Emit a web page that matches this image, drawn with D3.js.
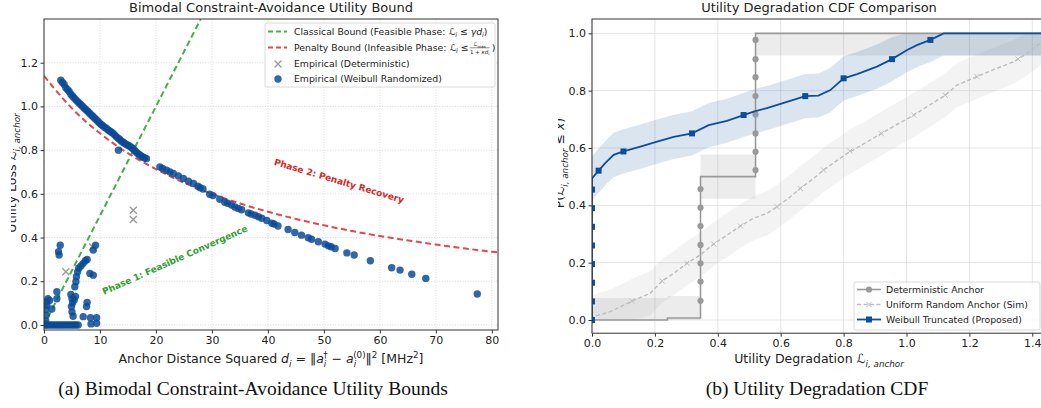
<!DOCTYPE html>
<html lang="en">
<head>
<meta charset="UTF-8">
<script src="https://d3js.org/d3.v7.min.js"></script>
<style>
    body { margin: 0; background: #fff; }
    svg text { font-family: "DejaVu Sans", sans-serif; fill: #222; }
    .cap { font-family: "Liberation Serif", "Times New Roman", serif; fill: #111; }
</style>
</head>
<body>
<svg id="fig" width="1041" height="408"></svg>
<script>
// ---------- panel (a) data ----------
const xTicksA = [0, 10, 20, 30, 40, 50, 60, 70, 80];
const yTicksA = [0, 0.2, 0.4, 0.6, 0.8, 1.0, 1.2];

// classical bound L = gamma*d (straight line)
const classicalBound = [[0, 0], [28, 1.4]];
const penaltyBound = [[0, 1.14], [5, 0.991], [10, 0.877], [15, 0.786], [20, 0.713], [25, 0.651],
    [30, 0.600], [35, 0.556], [40, 0.518], [45, 0.485], [50, 0.456], [55, 0.430],
    [60, 0.407], [65, 0.387], [70, 0.368], [75, 0.351], [80, 0.335], [81.2, 0.332]];

const detPoints = [[15.95, 0.525], [15.95, 0.483], [3.9, 0.243], [8.7, 0.357]];

// Weibull randomized empirical points
const weibullLow = [[0.2, 0], [0.5, 0], [0.9, 0], [1.3, 0], [1.7, 0], [2.1, 0], [2.5, 0], [2.9, 0],
    [3.3, 0], [3.7, 0], [4.1, 0], [4.5, 0], [4.9, 0], [5.3, 0], [5.7, 0], [6.1, 0], [8.4, 0.005], [9.4, 0.008],
    [0.3, 0.02], [0.4, 0.045], [0.3, 0.07], [0.5, 0.09], [0.4, 0.105], [1.0, 0.112], [0.7, 0.12],
    [1.4, 0.073], [2.3, 0.12], [2.3, 0.152], [2.6, 0.335], [2.9, 0.365], [2.7, 0.32],
    [4.8, 0.14], [5.0, 0.12], [5.1, 0.1], [4.9, 0.084], [5.0, 0.06], [5.2, 0.04],
    [5.5, 0.175], [5.7, 0.198], [5.8, 0.221], [6.0, 0.243], [6.2, 0.26], [6.6, 0.27], [7.0, 0.282],
    [7.4, 0.294], [7.7, 0.3], [5.6, 0.13], [5.4, 0.114], [7.7, 0.103], [7.6, 0.084], [8.3, 0.033],
    [9.4, 0.033], [7.0, 0.038], [8.2, 0.236], [8.8, 0.228], [9.2, 0.365], [8.8, 0.343]];
const weibullUpper = [[3.0, 1.12], [3.3, 1.11], [3.6, 1.10], [3.9, 1.085], [4.2, 1.077], [4.5, 1.068],
    [4.8, 1.056], [5.1, 1.047], [5.4, 1.038], [5.7, 1.03], [6.0, 1.022], [6.3, 1.015], [6.6, 1.008],
    [6.9, 1.0], [7.2, 0.992], [7.5, 0.985], [7.8, 0.978], [8.1, 0.97], [8.4, 0.962], [8.7, 0.955],
    [9.0, 0.947], [9.3, 0.94], [9.6, 0.932], [9.9, 0.924], [10.2, 0.917], [10.5, 0.912], [10.8, 0.905],
    [11.1, 0.9], [11.4, 0.894], [11.7, 0.888], [12.0, 0.883], [12.3, 0.877], [12.6, 0.87], [12.9, 0.862],
    [13.2, 0.855], [13.5, 0.85], [13.8, 0.842], [14.1, 0.836], [14.4, 0.832], [14.7, 0.826], [15.0, 0.822],
    [15.3, 0.818], [15.6, 0.812], [15.9, 0.806], [16.2, 0.798], [16.5, 0.79], [16.8, 0.784], [17.1, 0.778],
    [17.4, 0.772], [17.7, 0.768], [18.0, 0.764], [18.3, 0.761], [13.3, 0.80]];
const weibullTail = [[20.7, 0.723], [21.2, 0.716], [21.9, 0.708], [22.5, 0.70], [23.1, 0.693], [24.0, 0.682],
    [24.9, 0.670], [25.8, 0.658], [26.7, 0.647], [27.5, 0.635], [27.9, 0.628], [28.4, 0.622], [29.6, 0.598],
    [30.2, 0.592], [31.4, 0.575], [32.3, 0.562], [32.8, 0.557], [33.5, 0.549], [34.1, 0.54], [34.7, 0.533],
    [35.3, 0.527], [36.5, 0.513], [37.0, 0.508], [37.7, 0.502], [38.3, 0.495], [38.9, 0.488], [39.8, 0.478],
    [40.7, 0.466], [41.1, 0.462], [41.8, 0.453], [43.6, 0.437], [44.8, 0.423], [46.0, 0.411], [47.2, 0.399],
    [47.8, 0.392], [49.0, 0.381], [50.2, 0.37], [50.8, 0.362], [51.3, 0.358], [52.0, 0.35], [54.1, 0.33],
    [55.4, 0.32], [58.3, 0.294], [62.1, 0.262], [63.6, 0.251], [65.7, 0.232], [68.2, 0.213], [77.4, 0.142]];

// ---------- panel (b) data ----------
const xTicksB = [0, 0.2, 0.4, 0.6, 0.8, 1.0, 1.2, 1.4];
const yTicksB = [0, 0.2, 0.4, 0.6, 0.8, 1.0];
const bandEps = 0.077;

const detCdf = [[0, 0], [0.24, 0], [0.24, 0.007], [0.345, 0.007], [0.345, 0.5], [0.52, 0.5], [0.52, 1], [1.5, 1]];
const detMarks = [[0.345, 0.067], [0.345, 0.134], [0.345, 0.198], [0.345, 0.262], [0.345, 0.328],
    [0.345, 0.392], [0.345, 0.457], [0.52, 0.523], [0.52, 0.587], [0.52, 0.651], [0.52, 0.717],
    [0.52, 0.781], [0.52, 0.847], [0.52, 0.910], [0.52, 0.977]];

const uniCdf = [[0, 0], [0.005, 0.012], [0.058, 0.029], [0.127, 0.066], [0.185, 0.093], [0.223, 0.136],
    [0.26, 0.163], [0.302, 0.198], [0.344, 0.227], [0.387, 0.265], [0.429, 0.296], [0.472, 0.328],
    [0.514, 0.355], [0.556, 0.372], [0.588, 0.395], [0.631, 0.43], [0.662, 0.459], [0.705, 0.494],
    [0.736, 0.523], [0.811, 0.581], [0.885, 0.628], [0.949, 0.669], [1.023, 0.715], [1.065, 0.744],
    [1.123, 0.784], [1.16, 0.819], [1.224, 0.849], [1.288, 0.878], [1.341, 0.901], [1.383, 0.93],
    [1.425, 0.965], [1.46, 0.99], [1.48, 1.0], [1.5, 1.0]];
const uniMarks = [[0.127, 0.066], [0.223, 0.136], [0.302, 0.198], [0.387, 0.265], [0.472, 0.328],
    [0.588, 0.395], [0.662, 0.459], [0.736, 0.523], [0.82, 0.589], [0.92, 0.65], [1.023, 0.715],
    [1.123, 0.784], [1.224, 0.849], [1.355, 0.91], [1.435, 0.975]];

const weiCdf = [[0, 0], [0, 0.494], [0.021, 0.521], [0.042, 0.547], [0.069, 0.576], [0.1, 0.588],
    [0.154, 0.605], [0.207, 0.622], [0.26, 0.639], [0.318, 0.651], [0.371, 0.68], [0.429, 0.695],
    [0.482, 0.715], [0.514, 0.727], [0.556, 0.739], [0.62, 0.761], [0.678, 0.781], [0.72, 0.783],
    [0.758, 0.802], [0.8, 0.843], [0.843, 0.858], [0.906, 0.884], [0.954, 0.91], [1.002, 0.942],
    [1.033, 0.959], [1.076, 0.977], [1.118, 1.0], [1.5, 1.0]];
const weiMarks = [[0, 0], [0, 0.065], [0, 0.13], [0, 0.195], [0, 0.26], [0, 0.325], [0, 0.39], [0, 0.455],
    [0.021, 0.521], [0.1, 0.588], [0.318, 0.651], [0.482, 0.715], [0.678, 0.781], [0.8, 0.843],
    [0.954, 0.91], [1.076, 0.977]];

const svg = d3.select("#fig");

// text with sub/superscripts
function rich(text, parts, fs) {
    let cur = 0;
    parts.forEach(p => {
        const off = p.sub ? fs * 0.28 : p.sup ? -fs * 0.42 : 0;
        const ts = text.append("tspan").attr("dy", off - cur).text(p.t);
        cur = off;
        if (p.sub || p.sup) ts.attr("font-size", fs * 0.7);
        if (p.it) ts.attr("font-style", "italic");
        if (p.dx) ts.attr("dx", p.dx);
    });
    return text;
}

function axes(g, x, y, xt, yt, fmtX, fmtY, gridDash, gridColor) {
    const [x0, x1] = x.range(), [y0, y1] = y.range();
    const grid = g.append("g");
    xt.forEach(v => grid.append("line").attr("x1", x(v)).attr("x2", x(v)).attr("y1", y0).attr("y2", y1)
        .attr("stroke", gridColor).attr("stroke-width", 0.8).attr("stroke-dasharray", gridDash));
    yt.forEach(v => grid.append("line").attr("x1", x0).attr("x2", x1).attr("y1", y(v)).attr("y2", y(v))
        .attr("stroke", gridColor).attr("stroke-width", 0.8).attr("stroke-dasharray", gridDash));
    const ax = g.append("g").attr("transform", `translate(0,${y0})`)
        .call(d3.axisBottom(x).tickValues(xt).tickFormat(fmtX).tickSize(3.5).tickPadding(2.5));
    const ay = g.append("g").attr("transform", `translate(${x0},0)`)
        .call(d3.axisLeft(y).tickValues(yt).tickFormat(fmtY).tickSize(3.5).tickPadding(2.5));
    [ax, ay].forEach(a => {
        a.select(".domain").remove();
        a.selectAll("text").attr("font-size", 11).style("font-family", "DejaVu Sans").attr("fill", "#222");
        a.selectAll("line").attr("stroke", "#333");
    });
}

function spines(g, x, y) {
    const [x0, x1] = x.range(), [y0, y1] = y.range();
    g.append("rect").attr("x", x0).attr("y", y1).attr("width", x1 - x0).attr("height", y0 - y1)
        .attr("fill", "none").attr("stroke", "#333").attr("stroke-width", 1);
}

// ================= Panel (a) =================
const xA = d3.scaleLinear().domain([0, 81.1]).range([44, 498]);
const yA = d3.scaleLinear().domain([-0.023, 1.4]).range([330, 19]);
const gA = svg.append("g");
svg.append("clipPath").attr("id", "clipA").append("rect")
    .attr("x", 44).attr("y", 19).attr("width", 454).attr("height", 311);

axes(gA, xA, yA, xTicksA, yTicksA, d3.format("d"), d3.format(".1f"), "1,1.6", "#cfcfcf");

const plotA = gA.append("g").attr("clip-path", "url(#clipA)");
const lineA = d3.line().x(d => xA(d[0])).y(d => yA(d[1]));
plotA.append("path").attr("d", lineA(classicalBound)).attr("fill", "none")
    .attr("stroke", "#45b045").attr("stroke-width", 2).attr("stroke-dasharray", "6,3.5");
plotA.append("path").attr("d", lineA.curve(d3.curveMonotoneX)(penaltyBound)).attr("fill", "none")
    .attr("stroke", "#e04a4a").attr("stroke-width", 2).attr("stroke-dasharray", "6,3.5");

function xMark(g, cx, cy, s, color, w) {
    g.append("path").attr("d", `M${cx - s},${cy - s}L${cx + s},${cy + s}M${cx - s},${cy + s}L${cx + s},${cy - s}`)
        .attr("stroke", color).attr("stroke-width", w).attr("fill", "none");
}
detPoints.forEach(d => xMark(plotA, xA(d[0]), yA(d[1]), 3.5, "#999", 1.4));

plotA.selectAll(".dot").data(weibullLow.concat(weibullUpper, weibullTail)).enter()
    .append("circle").attr("class", "dot")
    .attr("cx", d => xA(d[0])).attr("cy", d => yA(d[1])).attr("r", 3.7)
    .attr("fill", "#0a4a96").attr("fill-opacity", 0.84);

spines(gA, xA, yA);

// annotations
gA.append("text").attr("transform", "translate(175,260) rotate(-24)")
    .attr("text-anchor", "middle").attr("dominant-baseline", "central")
    .attr("font-size", 9).attr("font-weight", "bold").style("fill", "#2ca02c")
    .text("Phase 1: Feasible Convergence");
gA.append("text").attr("transform", "translate(339,181) rotate(16.5)")
    .attr("text-anchor", "middle").attr("dominant-baseline", "central")
    .attr("font-size", 9).attr("font-weight", "bold").style("fill", "#d62728")
    .text("Phase 2: Penalty Recovery");

// legend (a)
const lgA = gA.append("g");
lgA.append("rect").attr("x", 265).attr("y", 23).attr("width", 230).attr("height", 64).attr("rx", 2)
    .attr("fill", "#fff").attr("fill-opacity", 0.85).attr("stroke", "#d0d0d0").attr("stroke-width", 0.8);
const rowsA = [31.5, 47.5, 64, 79];
lgA.append("line").attr("x1", 268).attr("x2", 287).attr("y1", rowsA[0]).attr("y2", rowsA[0])
    .attr("stroke", "#45b045").attr("stroke-width", 2).attr("stroke-dasharray", "5,3");
lgA.append("line").attr("x1", 268).attr("x2", 287).attr("y1", rowsA[1]).attr("y2", rowsA[1])
    .attr("stroke", "#e04a4a").attr("stroke-width", 2).attr("stroke-dasharray", "5,3");
xMark(lgA, 278, rowsA[2], 3.5, "#999", 1.3);
lgA.append("circle").attr("cx", 278).attr("cy", rowsA[3]).attr("r", 3.7).attr("fill", "#0a4a96").attr("fill-opacity", 0.84);
const lfs = 9.3;
rich(lgA.append("text").attr("x", 294).attr("y", rowsA[0] + 3.3).attr("font-size", lfs),
    [{ t: "Classical Bound (Feasible Phase: " }, { t: "ℒ", it: 1 }, { t: "i", sub: 1, it: 1 },
     { t: " ≤ " }, { t: "γd", it: 1 }, { t: "i", sub: 1, it: 1 }, { t: ")" }], lfs);
const t2 = rich(lgA.append("text").attr("x", 294).attr("y", rowsA[1] + 3.3).attr("font-size", lfs),
    [{ t: "Penalty Bound (Infeasible Phase: " }, { t: "ℒ", it: 1 }, { t: "i", sub: 1, it: 1 }, { t: " ≤ " }], lfs);
const fx = 294 + t2.node().getComputedTextLength() + 1;
rich(lgA.append("text").attr("x", fx + 10).attr("y", rowsA[1] - 1.5).attr("font-size", 5.5).attr("text-anchor", "middle"),
    [{ t: "ℒ", it: 1 }, { t: "max", sub: 1 }], 5.5);
lgA.append("line").attr("x1", fx).attr("x2", fx + 20).attr("y1", rowsA[1] + 0.3).attr("y2", rowsA[1] + 0.3)
    .attr("stroke", "#222").attr("stroke-width", 0.5);
rich(lgA.append("text").attr("x", fx + 10).attr("y", rowsA[1] + 6).attr("font-size", 5.5).attr("text-anchor", "middle"),
    [{ t: "1 + " }, { t: "κd", it: 1 }, { t: "i", sub: 1, it: 1 }], 5.5);
lgA.append("text").attr("x", fx + 22).attr("y", rowsA[1] + 3.3).attr("font-size", lfs).text(")");
lgA.append("text").attr("x", 294).attr("y", rowsA[2] + 3.3).attr("font-size", lfs).text("Empirical (Deterministic)");
lgA.append("text").attr("x", 294).attr("y", rowsA[3] + 3.3).attr("font-size", lfs).text("Empirical (Weibull Randomized)");

// titles / labels (a)
gA.append("text").attr("x", 271).attr("y", 12).attr("text-anchor", "middle").attr("font-size", 13)
    .text("Bimodal Constraint-Avoidance Utility Bound");
rich(gA.append("text").attr("x", 271).attr("y", 363).attr("text-anchor", "middle").attr("font-size", 12.5),
    [{ t: "Anchor Distance Squared " }, { t: "d", it: 1 }, { t: "i", sub: 1, it: 1 }, { t: " = ‖" },
     { t: "a", it: 1 }, { t: "i", sub: 1, it: 1 }, { t: "†", sup: 1, dx: -3 }, { t: " − " },
     { t: "a", it: 1 }, { t: "i", sub: 1, it: 1 }, { t: "(0)", sup: 1, dx: -3 }, { t: "‖" },
     { t: "2", sup: 1 }, { t: " [MHz" }, { t: "2", sup: 1 }, { t: "]" }], 12.5);

// y labels are cut at the left edge of each sub-figure, as in the original
svg.append("clipPath").attr("id", "clipLY").append("rect").attr("x", 11).attr("y", 0).attr("width", 30).attr("height", 408);
rich(svg.append("g").attr("clip-path", "url(#clipLY)").append("text")
    .attr("transform", "translate(16,173) rotate(-90)").attr("text-anchor", "middle").attr("font-size", 12.5),
    [{ t: "Utility Loss " }, { t: "ℒ", it: 1 }, { t: "i, anchor", sub: 1, it: 1 }], 12.5);
svg.append("text").attr("class", "cap").attr("x", 253).attr("y", 395).attr("text-anchor", "middle")
    .attr("font-size", 19.5).text("(a) Bimodal Constraint-Avoidance Utility Bounds");

// ================= Panel (b) =================
const xB = d3.scaleLinear().domain([0, 1.5]).range([592, 592 + 1.5 * 314.5]);
const yB = d3.scaleLinear().domain([-0.046, 1.05]).range([333.2, 19]);
const gB = svg.append("g");
svg.append("clipPath").attr("id", "clipB").append("rect")
    .attr("x", 592).attr("y", 19).attr("width", 472).attr("height", 314.2);

axes(gB, xB, yB, xTicksB, yTicksB, d3.format(".1f"), d3.format(".1f"), null, "#dedede");

const plotB = gB.append("g").attr("clip-path", "url(#clipB)");
const clamp = v => Math.max(0, Math.min(1, v));
const band = d3.area().x(d => xB(d[0])).y0(d => yB(clamp(d[1] - bandEps))).y1(d => yB(clamp(d[1] + bandEps)));
const lineB = d3.line().x(d => xB(d[0])).y(d => yB(d[1]));

plotB.append("path").attr("d", band(detCdf)).attr("fill", "#808080").attr("fill-opacity", 0.15);
plotB.append("path").attr("d", band(uniCdf)).attr("fill", "#b0b0b0").attr("fill-opacity", 0.15);
plotB.append("path").attr("d", band(weiCdf)).attr("fill", "#0b4f9c").attr("fill-opacity", 0.15);

plotB.append("path").attr("d", lineB(detCdf)).attr("fill", "none").attr("stroke", "#999").attr("stroke-width", 1.6);
plotB.selectAll(".dm").data(detMarks).enter().append("circle").attr("class", "dm")
    .attr("cx", d => xB(d[0])).attr("cy", d => yB(d[1])).attr("r", 3.1).attr("fill", "#999");

plotB.append("path").attr("d", lineB(uniCdf)).attr("fill", "none").attr("stroke", "#bdbdbd")
    .attr("stroke-width", 1.4).attr("stroke-dasharray", "4,2.5");
uniMarks.forEach(d => xMark(plotB, xB(d[0]), yB(d[1]), 2.6, "#bdbdbd", 1));

plotB.append("path").attr("d", lineB(weiCdf)).attr("fill", "none").attr("stroke", "#0b4f9c").attr("stroke-width", 1.8);
plotB.selectAll(".wm").data(weiMarks).enter().append("rect").attr("class", "wm")
    .attr("x", d => xB(d[0]) - 3).attr("y", d => yB(d[1]) - 3).attr("width", 6).attr("height", 6)
    .attr("fill", "#0b4f9c");

spines(gB, xB, yB);

// legend (b)
const lgB = gB.append("g");
lgB.append("rect").attr("x", 854).attr("y", 282).attr("width", 186).attr("height", 48).attr("rx", 2)
    .attr("fill", "#fff").attr("fill-opacity", 0.85).attr("stroke", "#d0d0d0").attr("stroke-width", 0.8);
const rowsB = [289.5, 304.5, 319.5];
lgB.append("line").attr("x1", 857).attr("x2", 881).attr("y1", rowsB[0]).attr("y2", rowsB[0]).attr("stroke", "#999").attr("stroke-width", 1.6);
lgB.append("circle").attr("cx", 869).attr("cy", rowsB[0]).attr("r", 3.1).attr("fill", "#999");
lgB.append("line").attr("x1", 857).attr("x2", 881).attr("y1", rowsB[1]).attr("y2", rowsB[1]).attr("stroke", "#bdbdbd")
    .attr("stroke-width", 1.4).attr("stroke-dasharray", "4,2.5");
xMark(lgB, 869, rowsB[1], 2.6, "#bdbdbd", 1);
lgB.append("line").attr("x1", 857).attr("x2", 881).attr("y1", rowsB[2]).attr("y2", rowsB[2]).attr("stroke", "#0b4f9c").attr("stroke-width", 1.8);
lgB.append("rect").attr("x", 866).attr("y", rowsB[2] - 3).attr("width", 6).attr("height", 6).attr("fill", "#0b4f9c");
["Deterministic Anchor", "Uniform Random Anchor (Sim)", "Weibull Truncated (Proposed)"].forEach((t, i) =>
    lgB.append("text").attr("x", 886).attr("y", rowsB[i] + 3.3).attr("font-size", 9.3).text(t));

// titles / labels (b)
gB.append("text").attr("x", 819).attr("y", 12).attr("text-anchor", "middle").attr("font-size", 13)
    .text("Utility Degradation CDF Comparison");
rich(gB.append("text").attr("x", 819).attr("y", 363).attr("text-anchor", "middle").attr("font-size", 12.5),
    [{ t: "Utility Degradation " }, { t: "ℒ", it: 1 }, { t: "i, anchor", sub: 1, it: 1 }], 12.5);
svg.append("clipPath").attr("id", "clipRY").append("rect").attr("x", 558).attr("y", 0).attr("width", 30).attr("height", 408);
rich(svg.append("g").attr("clip-path", "url(#clipRY)").append("text")
    .attr("transform", "translate(564,163) rotate(-90)").attr("text-anchor", "middle").attr("font-size", 12.5),
    [{ t: "P(" }, { t: "ℒ", it: 1 }, { t: "i, anchor", sub: 1, it: 1 }, { t: " ≤ " }, { t: "x", it: 1 }, { t: ")" }], 12.5);
svg.append("text").attr("class", "cap").attr("x", 817).attr("y", 395).attr("text-anchor", "middle")
    .attr("font-size", 19.5).text("(b) Utility Degradation CDF");
</script>
</body>
</html>
